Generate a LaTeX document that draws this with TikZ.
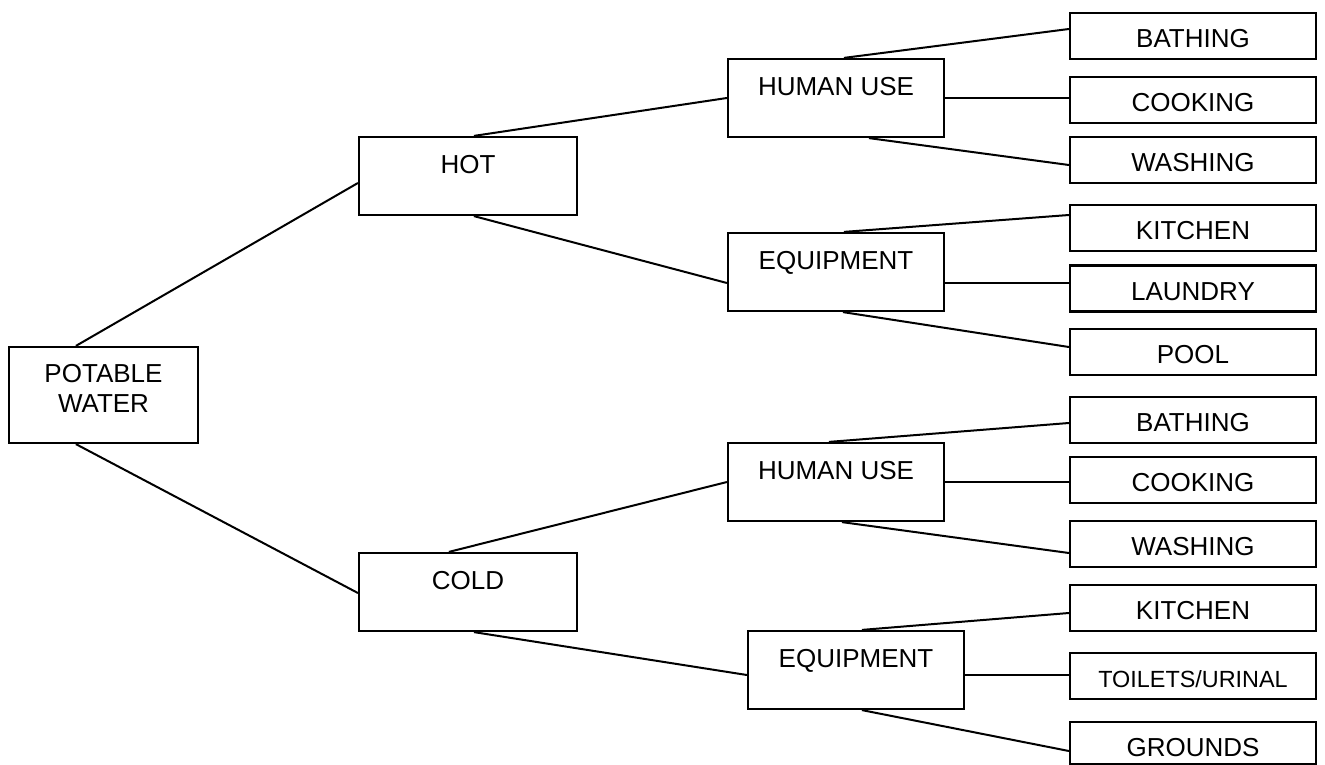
\documentclass[tikz,border=0pt]{standalone}
\usepackage{fontspec}
\setmainfont{Liberation Sans}
\begin{document}
\begin{tikzpicture}[x=1pt,y=-1pt,
  box/.style={draw,line width=2.2pt,inner sep=0pt,font=\fontsize{26}{30}\selectfont},
  mid/.style={box,minimum width=216pt,minimum height=78pt,text height=36.3pt,text depth=41.7pt},
  leaf/.style={box,minimum width=246pt,minimum height=46pt,text height=34.5pt,text depth=11.5pt},
  link/.style={line width=2pt}]
\useasboundingbox (0,0) rectangle (1325,765);
% root
\node[box,minimum width=189pt,minimum height=96pt,align=center,text height=65.3pt,text depth=30.7pt] (pw) at (103.5,395) {POTABLE\\WATER};
% second level
\node[mid,minimum width=218pt] (hot) at (468,176) {HOT};
\node[mid,minimum width=218pt] (cold) at (468,592) {COLD};
% third level
\node[mid] (hu1) at (836,98) {HUMAN USE};
\node[mid] (eq1) at (836,272) {EQUIPMENT};
\node[mid] (hu2) at (836,482) {HUMAN USE};
\node[mid] (eq2) at (856,670) {EQUIPMENT};
% leaves
\node[leaf] (bath1) at (1193,36) {BATHING};
\node[leaf] (cook1) at (1193,100) {COOKING};
\node[leaf] (wash1) at (1193,160) {WASHING};
\node[leaf] (kit1) at (1193,228) {KITCHEN};
\node[leaf] (laun) at (1193,288.5) {LAUNDRY};
\node[leaf] (pool) at (1193,352) {POOL};
\node[leaf] (bath2) at (1193,420) {BATHING};
\node[leaf] (cook2) at (1193,480) {COOKING};
\node[leaf] (wash2) at (1193,544) {WASHING};
\node[leaf] (kit2) at (1193,608) {KITCHEN};
\node[leaf,font=\fontsize{23.4}{28}\selectfont,text height=34pt,text depth=12pt] (toil) at (1193,676) {TOILETS/URINAL};
\node[leaf,minimum height=42pt,text height=34.3pt,text depth=7.7pt] (grnd) at (1193,743) {GROUNDS};
% connectors: root
\draw[link] ([xshift=68pt]pw.north west) -- ([yshift=-7pt]hot.west);
\draw[link] ([xshift=68pt]pw.south west) -- ([yshift=-1pt]cold.west);
% hot
\draw[link] ([xshift=116pt]hot.north west) -- (hu1.west);
\draw[link] ([xshift=116pt]hot.south west) -- ([yshift=-11pt]eq1.west);
% cold
\draw[link] ([xshift=91pt]cold.north west) -- (hu2.west);
\draw[link] ([xshift=116pt]cold.south west) -- ([yshift=-5pt]eq2.west);
% human use 1
\draw[link] ([xshift=117pt]hu1.north west) -- ([yshift=7pt]bath1.west);
\draw[link] (hu1.east) -- (hu1.east -| cook1.west);
\draw[link] ([xshift=142pt]hu1.south west) -- ([yshift=-5pt]wash1.west);
% equipment 1
\coordinate (e1r) at ([yshift=-11pt]eq1.east);
\draw[link] ([xshift=117pt]eq1.north west) -- ([yshift=13pt]kit1.west);
\draw[link] (e1r) -- (e1r -| laun.west);
\draw[link] ([xshift=116pt]eq1.south west) -- ([yshift=5pt]pool.west);
% human use 2
\draw[link] ([xshift=102pt]hu2.north west) -- ([yshift=-3pt]bath2.west);
\draw[link] (hu2.east) -- (hu2.east -| cook2.west);
\draw[link] ([xshift=115pt]hu2.south west) -- ([yshift=-9pt]wash2.west);
% equipment 2
\coordinate (e2r) at ([yshift=-5pt]eq2.east);
\draw[link] ([xshift=115pt]eq2.north west) -- ([yshift=-5pt]kit2.west);
\draw[link] (e2r) -- (e2r -| toil.west);
\draw[link] ([xshift=115pt]eq2.south west) -- ([yshift=-8pt]grnd.west);
\end{tikzpicture}
\end{document}
